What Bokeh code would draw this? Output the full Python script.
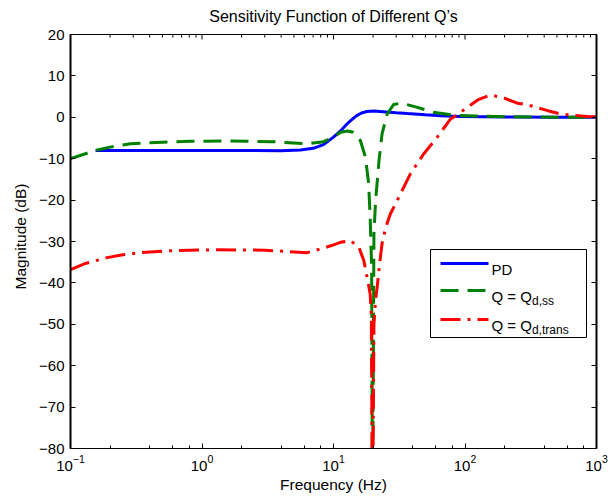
import numpy as np
from bokeh.plotting import figure
from bokeh.models import (LinearAxis, LogTicker, FixedTicker, LogTickFormatter,
                          CustomJSTickFormatter, BoxAnnotation, Label, Range1d, Span)
from bokeh.embed import file_html
from bokeh.resources import INLINE

# ---------------- data ----------------
pd_freq = [0.155, 0.3, 0.6, 1, 2, 4, 5.6, 7, 8.4, 10, 11.3, 12.5, 13.5, 15,
           16.5, 18, 20.3, 25, 30, 36.5, 50, 65, 92, 200, 500, 1000]
pd_db = [-8.0, -8.0, -8.0, -8.0, -8.0, -8.1, -7.9, -7.5, -6.6, -4.8, -3.3,
         -1.8, -0.8, 0.4, 1.1, 1.4, 1.5, 1.3, 1.1, 0.9, 0.6, 0.4, 0.2, 0.05,
         0.0, 0.0]

qss_freq = [0.1, 0.13, 0.155, 0.2, 0.286, 0.5, 0.81, 1.56, 3.5, 6.3, 8.4, 10,
            11.3, 12.8, 14.1, 16.0, 17.5, 18.5, 19.0, 19.5, 19.8, 20.3, 20.9,
            22.2, 23.4, 25.6, 28.7, 32.3, 36, 43.4, 57.5, 82, 120, 200, 400,
            1000]
qss_db = [-10, -8.8, -8.0, -7.2, -6.4, -6.0, -5.8, -5.7, -5.9, -6.4, -5.9, -4.8,
          -3.6, -3.3, -3.6, -5.6, -9.6, -16, -24.1, -36.2, -100, -28.1, -20.1,
          -10.4, -4.0, 0.8, 3.1, 3.4, 3.1, 2.4, 1.2, 0.5, 0.3, 0.15, 0.05, 0.0]

qtr_freq = [0.1, 0.13, 0.19, 0.25, 0.34, 0.6, 1.3, 3, 6.3, 8.4, 10, 11.3, 13.5,
            15.6, 17.0, 18.0, 19.0, 19.4, 19.8, 20.3, 20.9, 21.5, 22.3, 23.4,
            25, 27.1, 32.3, 38.5, 48.6, 61.5, 77.7, 89.3, 98, 125, 156, 200,
            250, 300, 427, 532, 850, 1000]
qtr_db = [-36.8, -35.3, -33.9, -33.2, -32.7, -32.2, -32.0, -32.1, -32.7, -31.6,
          -30.8, -30.2, -29.8, -31.4, -34.6, -38.6, -42.6, -48, -100, -50, -44,
          -41, -36, -30.5, -26.5, -23.3, -18.5, -13.6, -8.8, -4.8, -0.4, 0.8,
          1.8, 4.2, 5.4, 4.6, 3.4, 3.0, 1.6, 0.8, 0.2, 0.1]

x_tick_values = [0.1, 1, 10, 100, 1000]
y_tick_values = [-80, -70, -60, -50, -40, -30, -20, -10, 0, 10, 20]
y_tick_labels = ["\u221280", "\u221270", "\u221260", "\u221250", "\u221240",
                 "\u221230", "\u221220", "\u221210", "0", "10", "20"]

series_labels = ["PD", "Q = Q", "Q = Q"]
series_subscripts = ["", "d,ss", "d,trans"]

title_text = "Sensitivity Function of Different Q\u2019s"
xlabel_text = "Frequency (Hz)"
ylabel_text = "Magnitude (dB)"

# ---------------- layout ----------------
W, H = 616, 497
FL, FR, FT, FB = 70, 596, 34, 448      # box of the axes, in pixels
PAD_TOP = 10                            # frame extends above the box top
X0, X1 = 0.1, 1000
Y0, Y1 = -80, 20
FONT = "Liberation Sans"
DB_PER_PX = (Y1 - Y0) / (FB - FT)
DEC_PER_PX = (np.log10(X1) - np.log10(X0)) / (FR - FL)
Y1R = Y1 + PAD_TOP * DB_PER_PX


def px_x(x):
    return 10 ** (np.log10(X0) + (np.log10(X1) - np.log10(X0)) * (x - FL) / (FR - FL))


def px_y(y):
    return Y1 - (Y1 - Y0) * (y - FT) / (FB - FT)


p = figure(width=W, height=H, x_axis_type="log",
           x_range=Range1d(X0, X1), y_range=Range1d(Y0, Y1R),
           output_backend="svg", toolbar_location=None,
           min_border_left=FL, min_border_right=W - FR,
           min_border_top=FT - PAD_TOP, min_border_bottom=H - FB)
p.grid.visible = False
p.outline_line_color = None
p.background_fill_color = "white"
p.border_fill_color = "white"

p.title.text = title_text
p.title.align = "center"
p.title.text_font = FONT
p.title.text_font_size = "16px"
p.title.text_font_style = "normal"
p.title.text_color = "black"
p.title.standoff = 0


def style_axis(ax, minor, line=True):
    ax.axis_line_color = "black" if line else None
    ax.axis_line_width = 1
    ax.major_tick_in = 5
    ax.major_tick_out = 0
    ax.major_tick_line_color = "black"
    if minor:
        ax.minor_tick_in = 3
        ax.minor_tick_out = 0
        ax.minor_tick_line_color = "black"
    else:
        ax.minor_tick_line_color = None


xa = p.xaxis[0]
xa.ticker = LogTicker()
xa.formatter = LogTickFormatter()
xa.major_label_text_font = FONT
xa.major_label_text_font_size = "15px"
xa.major_label_text_color = "black"
xa.major_label_standoff = 6
xa.axis_label = xlabel_text
xa.axis_label_text_font = FONT
xa.axis_label_text_font_size = "15.5px"
xa.axis_label_text_font_style = "normal"
xa.axis_label_text_color = "black"
xa.axis_label_standoff = 2
style_axis(xa, True)

ya = p.yaxis[0]
ya.ticker = FixedTicker(ticks=y_tick_values)
ya.major_label_overrides = {v: s for v, s in zip(y_tick_values, y_tick_labels)}
ya.major_label_text_font = FONT
ya.major_label_text_font_size = "15px"
ya.major_label_text_color = "black"
ya.major_label_standoff = 6
ya.axis_label = ylabel_text
ya.axis_label_text_font = FONT
ya.axis_label_text_font_size = "15.5px"
ya.axis_label_text_font_style = "normal"
ya.axis_label_text_color = "black"
ya.axis_label_standoff = 7
style_axis(ya, False, line=False)

right = LinearAxis(ticker=FixedTicker(ticks=y_tick_values),
                   formatter=CustomJSTickFormatter(code="return '';"),
                   major_label_text_font_size="0px")
style_axis(right, False, line=False)
p.add_layout(right, "right")

# box edges (top, left, right) drawn as glyphs, top edge also as a thin bar
edges = p.multi_line([[X0, X1], [X0, X0], [X1, X1]],
                     [[Y1, Y1], [Y0, Y1], [Y0, Y1]],
                     line_color="black", line_width=[1, 2, 2])
top_bar = p.quad(left=[X0], right=[X1], bottom=[Y1 - 0.5 * DB_PER_PX],
                 top=[Y1 + 0.5 * DB_PER_PX], fill_color="black", line_color=None)
major_top = list(x_tick_values)
minor_top = [m * 10.0 ** e for e in range(-1, 3) for m in range(2, 10)]
half = 10 ** (0.5 * DEC_PER_PX)
tick_x = major_top + minor_top
tick_len = [5] * len(major_top) + [3] * len(minor_top)
tick_bars = p.quad(left=[v / half for v in tick_x], right=[v * half for v in tick_x],
                   top=[Y1] * len(tick_x),
                   bottom=[Y1 - n * DB_PER_PX for n in tick_len],
                   fill_color="black", line_color=None)
for r in (edges, top_bar, tick_bars):
    r.level = "overlay"
p.add_layout(Span(location=Y1, dimension="width", line_color="black",
                  line_width=1, level="overlay"))

# ---------------- curves ----------------
p.line(pd_freq, pd_db, line_color="#0000ff", line_width=3)
p.line(qss_freq, qss_db, line_color="#008000", line_width=3, line_dash="18 9")
p.line(qtr_freq, qtr_db, line_color="#ff0000", line_width=3, line_dash="20 7 3 7")

# ---------------- legend ----------------
box = BoxAnnotation(left=px_x(430), right=px_x(586), top=px_y(249), bottom=px_y(337),
                    fill_color="white", fill_alpha=1.0, line_color="black",
                    line_alpha=1.0, line_width=1, level="annotation")
p.add_layout(box)

rows_y = [263, 290, 319]
styles = [dict(line_color="#0000ff"),
          dict(line_color="#008000", line_dash="18 9"),
          dict(line_color="#ff0000", line_dash="20 7 3 7")]
for ry, st, txt, sub in zip(rows_y, styles, series_labels, series_subscripts):
    r = p.line([px_x(440), px_x(488)], [px_y(ry), px_y(ry)], line_width=3, **st)
    r.level = "overlay"
    p.add_layout(Label(x=px_x(491), y=px_y(ry + 5.5), text=txt, text_font=FONT,
                       text_font_size="15px", text_color="black",
                       text_baseline="alphabetic", level="overlay"))
    if sub:
        p.add_layout(Label(x=px_x(491), y=px_y(ry + 10.5), text=sub, text_font=FONT,
                           text_font_size="12px", text_color="black", x_offset=40.5,
                           text_baseline="alphabetic", level="overlay"))

open("out.html", "w").write(file_html(p, INLINE))
